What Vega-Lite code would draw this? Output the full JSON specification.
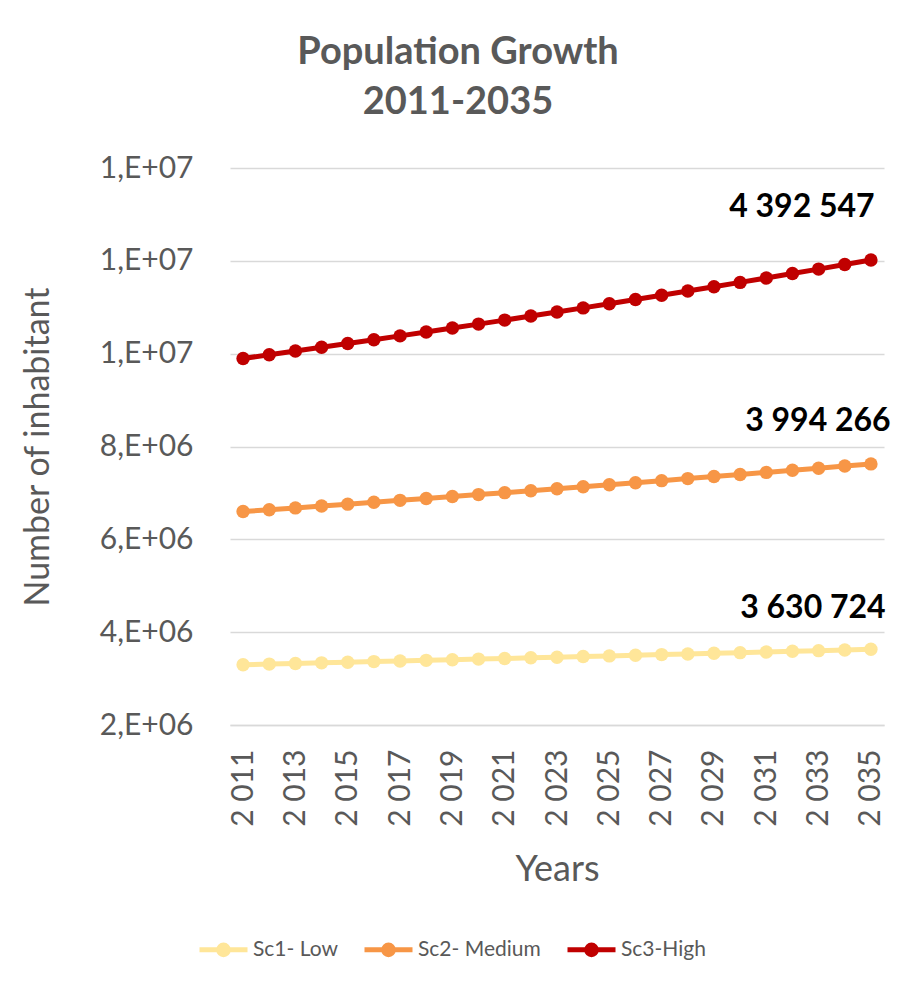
{
  "$schema": "https://vega.github.io/schema/vega-lite/v6.json",
  "width": 654,
  "height": 557,
  "autosize": {"type": "none"},
  "padding": {"left": 230, "top": 168, "right": 29, "bottom": 262},
  "background": "white",
  "config": {
    "locale": {"number": {"decimal": ",", "thousands": " ", "grouping": [3], "currency": ["", ""]}},
    "font": "Lato",
    "view": {"stroke": null}
  },
  "title": {
    "text": ["Population Growth", "2011-2035"],
    "fontSize": 38,
    "font": "Lato",
    "fontWeight": "bold",
    "color": "#595959",
    "anchor": "middle",
    "frame": "group",
    "dx": -99,
    "offset": 31,
    "lineHeight": 50
  },
  "data": {
    "values": [
      {"year": 2011, "scenario": "Sc1- Low", "pop": 3299000},
      {"year": 2012, "scenario": "Sc1- Low", "pop": 3312196},
      {"year": 2013, "scenario": "Sc1- Low", "pop": 3325445},
      {"year": 2014, "scenario": "Sc1- Low", "pop": 3338747},
      {"year": 2015, "scenario": "Sc1- Low", "pop": 3352102},
      {"year": 2016, "scenario": "Sc1- Low", "pop": 3365510},
      {"year": 2017, "scenario": "Sc1- Low", "pop": 3378972},
      {"year": 2018, "scenario": "Sc1- Low", "pop": 3392488},
      {"year": 2019, "scenario": "Sc1- Low", "pop": 3406058},
      {"year": 2020, "scenario": "Sc1- Low", "pop": 3419682},
      {"year": 2021, "scenario": "Sc1- Low", "pop": 3433361},
      {"year": 2022, "scenario": "Sc1- Low", "pop": 3447094},
      {"year": 2023, "scenario": "Sc1- Low", "pop": 3460882},
      {"year": 2024, "scenario": "Sc1- Low", "pop": 3474726},
      {"year": 2025, "scenario": "Sc1- Low", "pop": 3488625},
      {"year": 2026, "scenario": "Sc1- Low", "pop": 3502580},
      {"year": 2027, "scenario": "Sc1- Low", "pop": 3516590},
      {"year": 2028, "scenario": "Sc1- Low", "pop": 3530656},
      {"year": 2029, "scenario": "Sc1- Low", "pop": 3544779},
      {"year": 2030, "scenario": "Sc1- Low", "pop": 3558958},
      {"year": 2031, "scenario": "Sc1- Low", "pop": 3573194},
      {"year": 2032, "scenario": "Sc1- Low", "pop": 3587487},
      {"year": 2033, "scenario": "Sc1- Low", "pop": 3601837},
      {"year": 2034, "scenario": "Sc1- Low", "pop": 3616244},
      {"year": 2035, "scenario": "Sc1- Low", "pop": 3630724},
      {"year": 2011, "scenario": "Sc2- Medium", "pop": 3299000},
      {"year": 2012, "scenario": "Sc2- Medium", "pop": 3325392},
      {"year": 2013, "scenario": "Sc2- Medium", "pop": 3351995},
      {"year": 2014, "scenario": "Sc2- Medium", "pop": 3378811},
      {"year": 2015, "scenario": "Sc2- Medium", "pop": 3405841},
      {"year": 2016, "scenario": "Sc2- Medium", "pop": 3433088},
      {"year": 2017, "scenario": "Sc2- Medium", "pop": 3460553},
      {"year": 2018, "scenario": "Sc2- Medium", "pop": 3488237},
      {"year": 2019, "scenario": "Sc2- Medium", "pop": 3516143},
      {"year": 2020, "scenario": "Sc2- Medium", "pop": 3544272},
      {"year": 2021, "scenario": "Sc2- Medium", "pop": 3572626},
      {"year": 2022, "scenario": "Sc2- Medium", "pop": 3601207},
      {"year": 2023, "scenario": "Sc2- Medium", "pop": 3630017},
      {"year": 2024, "scenario": "Sc2- Medium", "pop": 3659057},
      {"year": 2025, "scenario": "Sc2- Medium", "pop": 3688329},
      {"year": 2026, "scenario": "Sc2- Medium", "pop": 3717836},
      {"year": 2027, "scenario": "Sc2- Medium", "pop": 3747579},
      {"year": 2028, "scenario": "Sc2- Medium", "pop": 3777560},
      {"year": 2029, "scenario": "Sc2- Medium", "pop": 3807780},
      {"year": 2030, "scenario": "Sc2- Medium", "pop": 3838242},
      {"year": 2031, "scenario": "Sc2- Medium", "pop": 3868948},
      {"year": 2032, "scenario": "Sc2- Medium", "pop": 3899900},
      {"year": 2033, "scenario": "Sc2- Medium", "pop": 3931099},
      {"year": 2034, "scenario": "Sc2- Medium", "pop": 3962548},
      {"year": 2035, "scenario": "Sc2- Medium", "pop": 3994266},
      {"year": 2011, "scenario": "Sc3-High", "pop": 3299000},
      {"year": 2012, "scenario": "Sc3-High", "pop": 3338588},
      {"year": 2013, "scenario": "Sc3-High", "pop": 3378651},
      {"year": 2014, "scenario": "Sc3-High", "pop": 3419195},
      {"year": 2015, "scenario": "Sc3-High", "pop": 3460225},
      {"year": 2016, "scenario": "Sc3-High", "pop": 3501748},
      {"year": 2017, "scenario": "Sc3-High", "pop": 3543769},
      {"year": 2018, "scenario": "Sc3-High", "pop": 3586294},
      {"year": 2019, "scenario": "Sc3-High", "pop": 3629330},
      {"year": 2020, "scenario": "Sc3-High", "pop": 3672882},
      {"year": 2021, "scenario": "Sc3-High", "pop": 3716957},
      {"year": 2022, "scenario": "Sc3-High", "pop": 3761560},
      {"year": 2023, "scenario": "Sc3-High", "pop": 3806699},
      {"year": 2024, "scenario": "Sc3-High", "pop": 3852379},
      {"year": 2025, "scenario": "Sc3-High", "pop": 3898608},
      {"year": 2026, "scenario": "Sc3-High", "pop": 3945391},
      {"year": 2027, "scenario": "Sc3-High", "pop": 3992736},
      {"year": 2028, "scenario": "Sc3-High", "pop": 4040649},
      {"year": 2029, "scenario": "Sc3-High", "pop": 4089137},
      {"year": 2030, "scenario": "Sc3-High", "pop": 4138207},
      {"year": 2031, "scenario": "Sc3-High", "pop": 4187865},
      {"year": 2032, "scenario": "Sc3-High", "pop": 4238119},
      {"year": 2033, "scenario": "Sc3-High", "pop": 4288976},
      {"year": 2034, "scenario": "Sc3-High", "pop": 4340444},
      {"year": 2035, "scenario": "Sc3-High", "pop": 4392547}
    ]
  },
  "transform": [
    {"stack": "pop", "groupby": ["year"], "as": ["y0", "y1"], "sort": [{"field": "scenario", "order": "ascending"}]}
  ],
  "encoding": {
    "x": {
      "field": "year",
      "type": "quantitative",
      "scale": {"domain": [2010.5, 2035.5], "nice": false, "zero": false},
      "axis": {
        "values": [2011, 2013, 2015, 2017, 2019, 2021, 2023, 2025, 2027, 2029, 2031, 2033, 2035],
        "format": ",d",
        "labelAngle": -90,
        "labelFontSize": 30,
        "labelColor": "#595959",
        "labelPadding": 24,
        "labelFont": "Lato",
        "ticks": false,
        "domain": true,
        "domainColor": "#D9D9D9",
        "domainWidth": 1.3,
        "grid": false,
        "title": "Years",
        "titleFont": "Lato",
        "titleFontSize": 36,
        "titleColor": "#595959",
        "titleFontWeight": "normal",
        "titlePadding": 26
      }
    },
    "y": {
      "field": "y1",
      "type": "quantitative",
      "scale": {"domain": [2000000, 14000000], "nice": false, "zero": false},
      "axis": {
        "values": [2000000, 4000000, 6000000, 8000000, 10000000, 12000000, 14000000],
        "labelExpr": "datum.value >= 10000000 ? format(datum.value / 10000000, '.0f') + ',E+07' : format(datum.value / 1000000, '.0f') + ',E+06'",
        "labelFontSize": 30,
        "labelFont": "Lato",
        "labelColor": "#595959",
        "labelPadding": 37,
        "ticks": false,
        "domain": false,
        "grid": true,
        "gridColor": "#D9D9D9",
        "gridWidth": 1.3,
        "title": "Number of inhabitant",
        "titleFont": "Lato",
        "titleFontSize": 34,
        "titleColor": "#595959",
        "titleFontWeight": "normal",
        "titlePadding": 44
      }
    },
    "color": {
      "field": "scenario",
      "type": "nominal",
      "scale": {"domain": ["Sc1- Low", "Sc2- Medium", "Sc3-High"], "range": ["#FFE699", "#F79646", "#C00000"]},
      "legend": {
        "orient": "none",
        "direction": "horizontal",
        "legendX": -33,
        "legendY": 755,
        "title": null,
        "symbolType": "M-1,0L1,0M-0.2,0A0.2,0.2,0,1,1,0.2,0A0.2,0.2,0,1,1,-0.2,0Z",
        "symbolSize": 2304,
        "symbolStrokeWidth": 5,
        "labelFontSize": 21,
        "labelFont": "Lato",
        "labelColor": "#595959",
        "labelOffset": 3,
        "columnPadding": 16,
        "encode": {
          "symbols": {
            "update": {
              "fill": {"scale": "color", "field": "value"},
              "stroke": {"scale": "color", "field": "value"},
              "opacity": {"value": 1}
            }
          }
        }
      }
    }
  },
  "layer": [
    {
      "mark": {"type": "line", "strokeWidth": 5, "point": {"filled": true, "size": 180, "opacity": 1}}
    },
    {
      "transform": [{"filter": "datum.scenario === 'Sc3-High' && datum.year === 2035"}],
      "mark": {"type": "text", "font": "Lato", "fontWeight": "bold", "fontSize": 32, "color": "#000000", "align": "center", "baseline": "middle", "dx": -69, "dy": -53},
      "encoding": {"text": {"field": "pop", "type": "quantitative", "format": ",d"}, "color": {"value": "#000000"}}
    },
    {
      "transform": [{"filter": "datum.scenario === 'Sc2- Medium' && datum.year === 2035"}],
      "mark": {"type": "text", "font": "Lato", "fontWeight": "bold", "fontSize": 32, "color": "#000000", "align": "center", "baseline": "middle", "dx": -53, "dy": -43},
      "encoding": {"text": {"field": "pop", "type": "quantitative", "format": ",d"}, "color": {"value": "#000000"}}
    },
    {
      "transform": [{"filter": "datum.scenario === 'Sc1- Low' && datum.year === 2035"}],
      "mark": {"type": "text", "font": "Lato", "fontWeight": "bold", "fontSize": 32, "color": "#000000", "align": "center", "baseline": "middle", "dx": -58, "dy": -41},
      "encoding": {"text": {"field": "pop", "type": "quantitative", "format": ",d"}, "color": {"value": "#000000"}}
    }
  ]
}
